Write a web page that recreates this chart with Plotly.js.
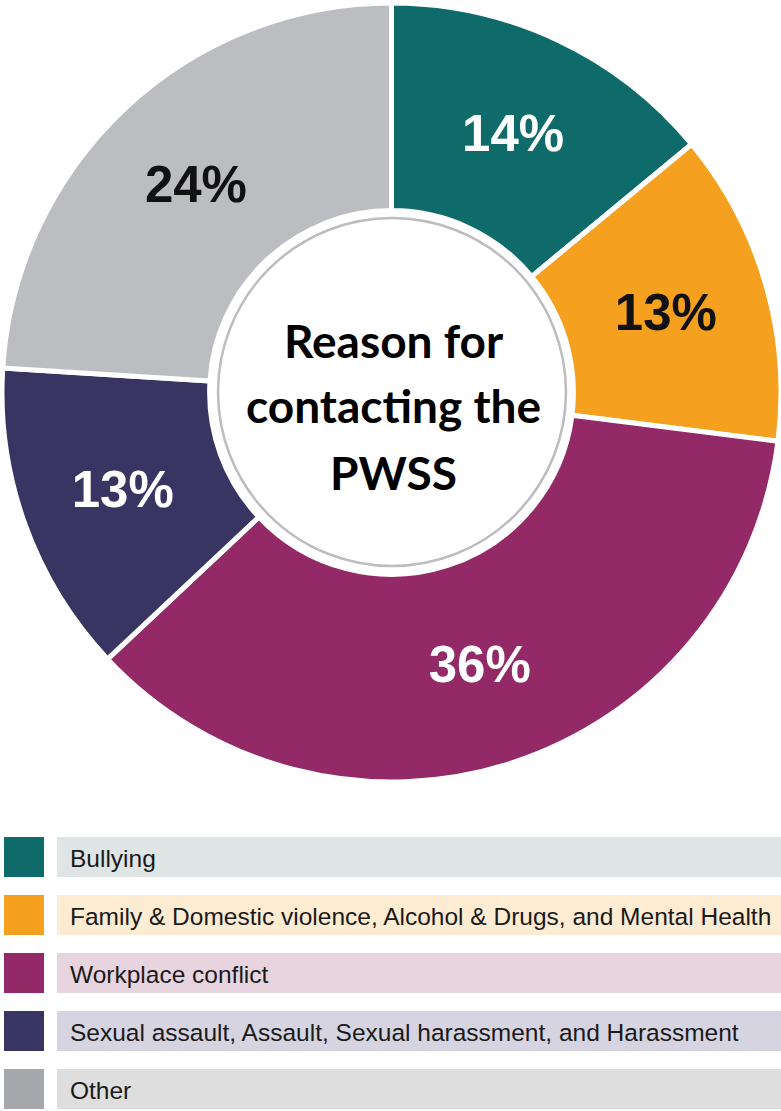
<!DOCTYPE html>
<html>
<head>
<meta charset="utf-8">
<script src="https://cdn.plot.ly/plotly-3.0.1.min.js"></script>
<style>html,body{margin:0;padding:0;background:#fff;}#chart{width:781px;height:1111px;}</style>
</head>
<body>
<div id="chart"></div>
<script>
const categories = ["Bullying", "Family & Domestic violence, Alcohol & Drugs, and Mental Health", "Workplace conflict", "Sexual assault, Assault, Sexual harassment, and Harassment", "Other"];
const values = [14, 13, 36, 13, 24];
const sliceColors = ["#0f6b6a", "#f6a01f", "#932a67", "#383562", "#bcbdc0"];
const swatchColors = ["#0f6b6a", "#f6a01f", "#932a67", "#383562", "#a6a7aa"];
const bandColors = ["#dfe5e5", "#fdebd2", "#e8d4de", "#d6d4e1", "#dedede"];
const labelColors = ["#ffffff", "#111111", "#ffffff", "#ffffff", "#111111"];
const centerLines = ["Reason for", "contacting the", "PWSS"];

const W = 781, H = 1111;
const px = x => x / W;
const py = y => 1 - y / H;

const pie = {
  type: "pie",
  values: values,
  labels: categories,
  marker: {colors: sliceColors, line: {color: "#ffffff", width: 5}},
  sort: false,
  direction: "clockwise",
  rotation: 0,
  hole: 0.467,
  texttemplate: "%{value}%",
  textinfo: "text",
  textposition: "inside",
  insidetextorientation: "horizontal",
  insidetextfont: {family: "Liberation Sans, Arial, sans-serif", size: 51, color: labelColors, weight: 700},
  domain: {x: [px(2), px(781)], y: [py(783), py(2)]},
  showlegend: false,
  hoverinfo: "none"
};

const shapes = [];
const annotations = [];

// center circle
const cx = 392, cy = 392, r = 174;
shapes.push({type: "circle", xref: "paper", yref: "paper",
  x0: px(cx - r), x1: px(cx + r), y0: py(cy + r), y1: py(cy - r),
  fillcolor: "#ffffff", line: {color: "#bdbdbd", width: 2.5}});

const centerY = [340, 406, 472];
centerLines.forEach((t, i) => {
  annotations.push({text: "<b>" + t + "</b>", xref: "paper", yref: "paper",
    x: px(cx + 1), y: py(centerY[i]), xanchor: "center", yanchor: "middle", showarrow: false,
    font: {family: "Lato, sans-serif", size: 46, color: "#000000"}});
});

// legend
const rowTop = [837, 895, 953, 1011, 1069];
categories.forEach((c, i) => {
  const t = rowTop[i], b = t + 40;
  shapes.push({type: "rect", xref: "paper", yref: "paper", x0: px(4), x1: px(44), y0: py(b), y1: py(t),
    fillcolor: swatchColors[i], line: {width: 0}});
  shapes.push({type: "rect", xref: "paper", yref: "paper", x0: px(57), x1: px(781), y0: py(b), y1: py(t),
    fillcolor: bandColors[i], line: {width: 0}});
  annotations.push({text: c, xref: "paper", yref: "paper", x: px(68), y: py(t + 21),
    xanchor: "left", yanchor: "middle", showarrow: false,
    font: {family: "Liberation Sans, Arial, sans-serif", size: 24.5, color: "#1a1a1a"}});
});

const layout = {
  width: W, height: H,
  margin: {l: 0, r: 0, t: 0, b: 0},
  paper_bgcolor: "#ffffff",
  plot_bgcolor: "#ffffff",
  shapes: shapes,
  annotations: annotations,
  showlegend: false
};

Plotly.newPlot("chart", [pie], layout, {displayModeBar: false, staticPlot: true});
</script>
</body>
</html>
